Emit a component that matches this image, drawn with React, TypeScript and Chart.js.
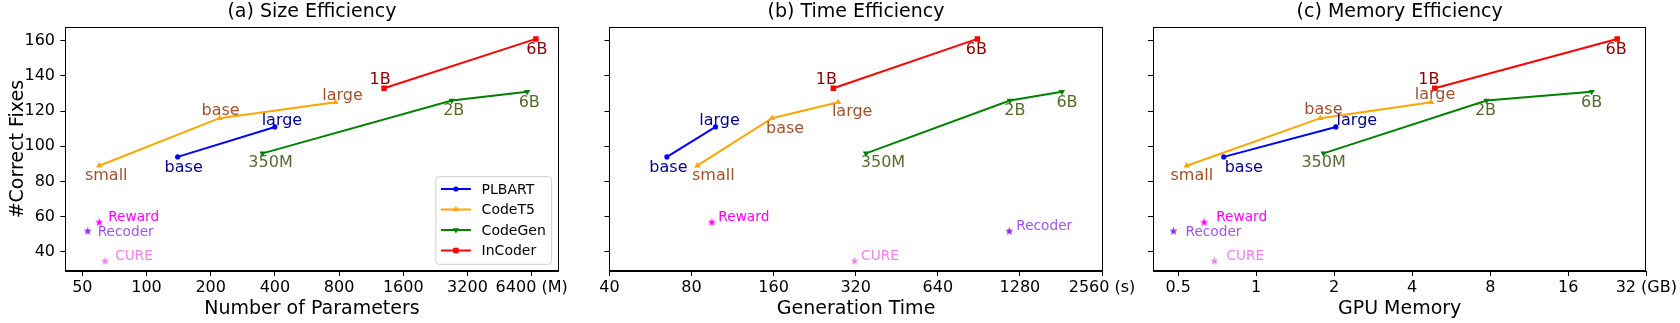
import React, { useEffect, useRef } from 'react';
import { Chart, registerables } from 'chart.js';

Chart.register(...registerables);

// ---------------- data ----------------
const seriesNames = ['PLBART', 'CodeT5', 'CodeGen', 'InCoder'];
const plbartLabels = ['base', 'large'];
const codet5Labels = ['small', 'base', 'large'];
const codegenLabels = ['350M', '2B', '6B'];
const incoderLabels = ['1B', '6B'];

const plbartFixes = [94, 111];
const codet5Fixes = [89, 116, 125];
const codegenFixes = [96, 126, 131];
const incoderFixes = [133, 161];

// number of parameters (M)
const plbartParams = [140, 400];
const codet5Params = [60, 220, 770];
const codegenParams = [350, 2700, 6100];
const incoderParams = [1300, 6700];

// generation time (s)
const plbartTime = [65, 98];
const codet5Time = [84, 158, 276];
const codegenTime = [349, 1176, 1826];
const incoderTime = [265, 894];

// GPU memory (GB)
const plbartMem = [0.75, 2.03];
const codet5Mem = [0.54, 1.77, 4.73];
const codegenMem = [1.82, 7.74, 19.7];
const incoderMem = [4.89, 24.7];

const baselineNames = ['Reward', 'Recoder', 'CURE'];
const baselineFixes = [57, 52, 35];
const baselineParams = [60, 53, 64];
const baselineTime = [95, 1170, 317];
const baselineMem = [0.63, 0.48, 0.69];

const yTicks = [40, 60, 80, 100, 120, 140, 160];
const sizeTicks = [50, 100, 200, 400, 800, 1600, 3200, 6400];
const sizeTickLabels = ['50', '100', '200', '400', '800', '1600', '3200', '6400 (M)'];
const timeTicks = [40, 80, 160, 320, 640, 1280, 2560];
const timeTickLabels = ['40', '80', '160', '320', '640', '1280', '2560 (s)'];
const memTicks = [0.5, 1, 2, 4, 8, 16, 32];
const memTickLabels = ['0.5', '1', '2', '4', '8', '16', '32 (GB)'];

const seriesPointLabels = [plbartLabels, codet5Labels, codegenLabels, incoderLabels];
const seriesFixes = [plbartFixes, codet5Fixes, codegenFixes, incoderFixes];

// ---------------- styles ----------------
const FONT = '"DejaVu Sans", sans-serif';
const seriesStyles = [
  { color: '#0000FF', labelColor: '#00008B', marker: 'circle', radius: 2.6, rotation: 0 },
  { color: '#FFA500', labelColor: '#A0522D', marker: 'triangle', radius: 3.6, rotation: 0 },
  { color: '#008000', labelColor: '#556B2F', marker: 'triangle', radius: 3.6, rotation: 180 },
  { color: '#FF0000', labelColor: '#8B0000', marker: 'rect', radius: 3.9, rotation: 0 },
];
const baselineStyles = [
  { color: '#FF00FF', labelColor: '#FF00FF' },
  { color: '#8A2BE2', labelColor: '#A155E8' },
  { color: '#EE82EE', labelColor: '#EE82EE' },
];

const Y_MIN = 29.2;
const Y_MAX = 167.6;
const AREA_TOP = 27.3;
const AREA_BOTTOM = 271;
const H = 323;

const panels = [
  {
    title: '(a) Size Efficiency', xTitle: 'Number of Parameters',
    ticks: sizeTicks, tickLabels: sizeTickLabels, xMin: 41.6, xMax: 8560,
    xs: [plbartParams, codet5Params, codegenParams, incoderParams], bx: baselineParams,
    canvas: [0, 600], area: [65.3, 558.6], yLabels: true, legend: true,
    offsets: [
      [[6, 9], [7, -8]],
      [[7, 8], [1, -9], [7, -8]],
      [[8, 8], [2, 9], [2, 9]],
      [[-4, -10], [1, 9]],
    ],
    bOffsets: [[9, -5.7], [10, 0], [10, -5.7]],
  },
  {
    title: '(b) Time Efficiency', xTitle: 'Generation Time',
    ticks: timeTicks, tickLabels: timeTickLabels, xMin: 40, xMax: 2575,
    xs: [plbartTime, codet5Time, codegenTime, incoderTime], bx: baselineTime,
    canvas: [575, 1140], area: [609.4, 1102.7], yLabels: false, legend: false,
    offsets: [
      [[1.5, 9], [4, -8]],
      [[16, 8], [13, 9], [14, 8]],
      [[17, 8], [5, 9], [5, 9]],
      [[-7, -10], [-1, 9]],
    ],
    bOffsets: [[6.5, -5.7], [7, -6], [6.5, -5.7]],
  },
  {
    title: '(c) Memory Efficiency', xTitle: 'GPU Memory',
    ticks: memTicks, tickLabels: memTickLabels, xMin: 0.4, xMax: 32,
    xs: [plbartMem, codet5Mem, codegenMem, incoderMem], bx: baselineMem,
    canvas: [1115, 1680], area: [1153, 1646.3], yLabels: false, legend: false,
    offsets: [
      [[20, 9], [21, -8]],
      [[5, 8], [3, -10], [4, -9]],
      [[0, 8], [-1, 9], [0, 9]],
      [[-6, -10], [-1, 9]],
    ],
    bOffsets: [[12, -5.7], [12, 0], [12, -5.7]],
  },
];

function makeStar(color: string, r: number) {
  const s = Math.ceil(r * 2 + 2);
  const c = document.createElement('canvas');
  c.width = s;
  c.height = s;
  const ctx = c.getContext('2d')!;
  ctx.fillStyle = color;
  ctx.beginPath();
  for (let i = 0; i < 10; i++) {
    const rad = i % 2 === 0 ? r : r * 0.42;
    const a = -Math.PI / 2 + (i * Math.PI) / 5;
    const x = s / 2 + rad * Math.cos(a);
    const y = s / 2 + rad * Math.sin(a) + 0.4;
    if (i === 0) ctx.moveTo(x, y);
    else ctx.lineTo(x, y);
  }
  ctx.closePath();
  ctx.fill();
  return c;
}

function drawMarker(ctx: CanvasRenderingContext2D, st: any, x: number, y: number) {
  ctx.fillStyle = st.color;
  ctx.beginPath();
  if (st.marker === 'circle') {
    ctx.arc(x, y, st.radius, 0, Math.PI * 2);
  } else if (st.marker === 'rect') {
    const h = st.radius * Math.SQRT1_2;
    ctx.rect(x - h, y - h, 2 * h, 2 * h);
  } else {
    const r = st.radius;
    const sgn = st.rotation === 180 ? -1 : 1;
    for (let k = 0; k < 3; k++) {
      const a = (k * 2 * Math.PI) / 3;
      const px = x + Math.sin(a) * r;
      const py = y - sgn * Math.cos(a) * r;
      if (k === 0) ctx.moveTo(px, py);
      else ctx.lineTo(px, py);
    }
    ctx.closePath();
  }
  ctx.fill();
}

function Panel({ p }: { p: any }) {
  const ref = useRef<HTMLCanvasElement>(null);
  const w = p.canvas[1] - p.canvas[0];
  useEffect(() => {
    const datasets: any[] = seriesNames.map((name, i) => ({
      label: name,
      data: p.xs[i].map((x: number, j: number) => ({ x, y: seriesFixes[i][j] })),
      showLine: true,
      borderColor: seriesStyles[i].color,
      backgroundColor: seriesStyles[i].color,
      borderWidth: 2,
      pointStyle: seriesStyles[i].marker,
      pointRadius: seriesStyles[i].radius,
      pointRotation: seriesStyles[i].rotation,
      pointBorderWidth: 0,
      fill: false,
    }));
    baselineNames.forEach((name, k) => {
      datasets.push({
        label: name,
        data: [{ x: p.bx[k], y: baselineFixes[k] }],
        showLine: false,
        pointStyle: makeStar(baselineStyles[k].color, 4.3),
        pointRadius: 4,
        backgroundColor: baselineStyles[k].color,
        borderColor: baselineStyles[k].color,
      });
    });

    const overlay = {
      id: 'overlay',
      afterDatasetsDraw(chart: any) {
        const ctx = chart.ctx as CanvasRenderingContext2D;
        const xs = chart.scales.x;
        const ys = chart.scales.y;
        const a = chart.chartArea;
        ctx.save();
        // point labels
        ctx.font = `16px ${FONT}`;
        ctx.textAlign = 'center';
        ctx.textBaseline = 'alphabetic';
        seriesPointLabels.forEach((labels, i) => {
          labels.forEach((t, j) => {
            const px = xs.getPixelForValue(p.xs[i][j]);
            const py = ys.getPixelForValue(seriesFixes[i][j]);
            const [dx, dy] = p.offsets[i][j];
            ctx.fillStyle = seriesStyles[i].labelColor;
            ctx.fillText(t, px + dx, py + dy + 5.8);
          });
        });
        ctx.font = `13.7px ${FONT}`;
        ctx.textAlign = 'left';
        baselineNames.forEach((n, k) => {
          const px = xs.getPixelForValue(p.bx[k]);
          const py = ys.getPixelForValue(baselineFixes[k]);
          const [dx, dy] = p.bOffsets[k];
          ctx.fillStyle = baselineStyles[k].labelColor;
          ctx.fillText(n, px + dx, py + dy + 5);
        });
        // legend
        if (p.legend) {
          const lw = 115.7;
          const lh = 87.6;
          const lx = a.right - 7 - lw;
          const ly = a.bottom - 6.7 - lh;
          ctx.beginPath();
          if ((ctx as any).roundRect) (ctx as any).roundRect(lx, ly, lw, lh, 3);
          else ctx.rect(lx, ly, lw, lh);
          ctx.fillStyle = 'rgba(255,255,255,0.8)';
          ctx.fill();
          ctx.strokeStyle = '#d0d0d0';
          ctx.lineWidth = 1;
          ctx.stroke();
          ctx.font = `14px ${FONT}`;
          ctx.textAlign = 'left';
          ctx.textBaseline = 'middle';
          seriesNames.forEach((name, i) => {
            const ry = ly + 12.3 + i * 20.5;
            const st = seriesStyles[i];
            ctx.strokeStyle = st.color;
            ctx.lineWidth = 2;
            ctx.beginPath();
            ctx.moveTo(lx + 5, ry);
            ctx.lineTo(lx + 35, ry);
            ctx.stroke();
            drawMarker(ctx, st, lx + 20, ry);
            ctx.fillStyle = '#000';
            ctx.fillText(name, lx + 45.7, ry + 1);
          });
        }
        ctx.restore();
      },
      afterDraw(chart: any) {
        const ctx = chart.ctx as CanvasRenderingContext2D;
        const a = chart.chartArea;
        ctx.save();
        ctx.strokeStyle = '#000';
        ctx.lineWidth = 1;
        const l = Math.round(a.left) + 0.5;
        const r = Math.round(a.right) - 0.5;
        const t = Math.round(a.top) + 0.5;
        const b = Math.round(a.bottom) - 0.5;
        ctx.strokeRect(l, t, r - l, b - t);
        ctx.font = `19px ${FONT}`;
        ctx.fillStyle = '#000';
        ctx.textAlign = 'center';
        ctx.textBaseline = 'alphabetic';
        ctx.fillText(p.title, (a.left + a.right) / 2, 17.3);
        ctx.restore();
      },
    };

    const chart = new Chart(ref.current!, {
      type: 'scatter',
      data: { datasets },
      options: {
        animation: false,
        responsive: false,
        devicePixelRatio: 1,
        events: [],
        layout: { padding: { left: 0, right: p.canvas[1] - p.area[1], top: AREA_TOP, bottom: 0 } },
        plugins: { legend: { display: false }, tooltip: { enabled: false }, title: { display: false } },
        scales: {
          x: {
            type: 'logarithmic',
            min: p.xMin,
            max: p.xMax,
            afterBuildTicks: (s: any) => {
              s.ticks = p.ticks.map((v: number) => ({ value: v }));
            },
            afterFit: (s: any) => {
              s.height = H - AREA_BOTTOM;
            },
            ticks: {
              autoSkip: false,
              maxRotation: 0,
              minRotation: 0,
              padding: 2.5,
              color: '#000',
              font: { size: 16, family: FONT },
              callback: (_v: any, i: number) => p.tickLabels[i],
            },
            grid: { drawOnChartArea: false, color: '#000', tickLength: 5, tickWidth: 1 },
            border: { display: true, color: '#000', width: 1 },
            title: {
              display: true,
              text: p.xTitle,
              color: '#000',
              font: { size: 19, family: FONT },
              padding: { top: 0, bottom: 2.5 },
            },
          },
          y: {
            type: 'linear',
            min: Y_MIN,
            max: Y_MAX,
            afterBuildTicks: (s: any) => {
              s.ticks = yTicks.map((v) => ({ value: v }));
            },
            afterFit: (s: any) => {
              s.width = p.area[0] - p.canvas[0];
            },
            ticks: {
              padding: 5.3,
              color: '#000',
              font: { size: 16, family: FONT },
              callback: (v: any) => (p.yLabels ? String(v) : ''),
            },
            grid: { drawOnChartArea: false, color: '#000', tickLength: 5, tickWidth: 1 },
            border: { display: true, color: '#000', width: 1 },
            title: {
              display: p.yLabels,
              text: '#Correct Fixes',
              color: '#000',
              font: { size: 19, family: FONT },
              padding: { top: 6.5, bottom: 0 },
            },
          },
        },
      },
      plugins: [overlay],
    } as any);
    return () => chart.destroy();
  }, []);
  return (
    <canvas
      ref={ref}
      width={w}
      height={H}
      style={{ position: 'absolute', left: p.canvas[0], top: 0, width: w, height: H }}
    />
  );
}

export default function App() {
  return (
    <div style={{ position: 'fixed', left: 0, top: 0, width: 1680, height: H, background: '#fff' }}>
      {panels.map((p, i) => (
        <Panel key={i} p={p} />
      ))}
    </div>
  );
}
